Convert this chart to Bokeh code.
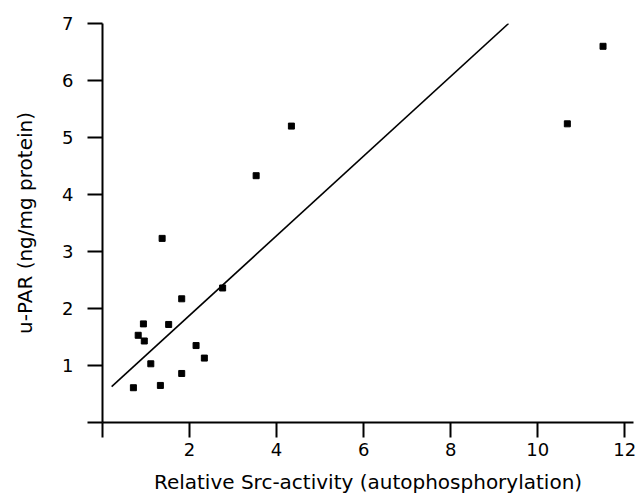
from bokeh.plotting import figure
from bokeh.models import Range1d, FixedTicker
from bokeh.embed import file_html
from bokeh.resources import INLINE

# Data
src_activity = [0.71, 0.82, 0.94, 0.96, 1.11, 1.33, 1.37, 1.52, 1.82, 1.82,
                2.15, 2.34, 2.76, 3.53, 4.34, 10.68, 11.50]
upar = [0.61, 1.53, 1.73, 1.43, 1.03, 0.65, 3.23, 1.72, 2.17, 0.86,
        1.35, 1.13, 2.36, 4.33, 5.20, 5.24, 6.60]
fit_x = [0.21, 9.33]
fit_y = [0.63, 7.0]
x_ticks = [0, 2, 4, 6, 8, 10, 12]
y_ticks = [0, 1, 2, 3, 4, 5, 6, 7]

FONT = "DejaVu Sans"

p = figure(width=638, height=496, output_backend="svg", toolbar_location=None,
           x_range=Range1d(0, 12.2), y_range=Range1d(0, 7),
           min_border_left=102, min_border_right=5, min_border_top=23,
           min_border_bottom=73)
p.outline_line_color = None
p.grid.grid_line_color = None

p.line(fit_x, fit_y, line_color="black", line_width=1.6)
p.scatter(src_activity, upar, marker="square", size=6, fill_color="black",
          line_color="black")

for ax, ticks in ((p.xaxis[0], x_ticks), (p.yaxis[0], y_ticks)):
    ax.ticker = FixedTicker(ticks=ticks)
    ax.major_label_overrides = {0: ""}
    ax.minor_tick_line_color = None
    ax.major_tick_in = 0
    ax.major_tick_out = 15
    ax.axis_line_width = 2
    ax.major_tick_line_width = 2
    ax.axis_line_color = "black"
    ax.major_tick_line_color = "black"
    ax.major_label_text_font = FONT
    ax.major_label_text_font_size = "18px"
    ax.major_label_text_color = "black"
    ax.axis_label_text_font = FONT
    ax.axis_label_text_font_size = "20px"
    ax.axis_label_text_font_style = "normal"
    ax.axis_label_text_color = "black"

p.xaxis.axis_label = "Relative Src-activity (autophosphorylation)"
p.yaxis.axis_label = "u-PAR (ng/mg protein)"
p.xaxis.major_label_standoff = 5
p.xaxis.axis_label_standoff = 11
p.yaxis.major_label_standoff = 14
p.yaxis.axis_label_standoff = 22

open("out.html", "w").write(file_html(p, INLINE))
